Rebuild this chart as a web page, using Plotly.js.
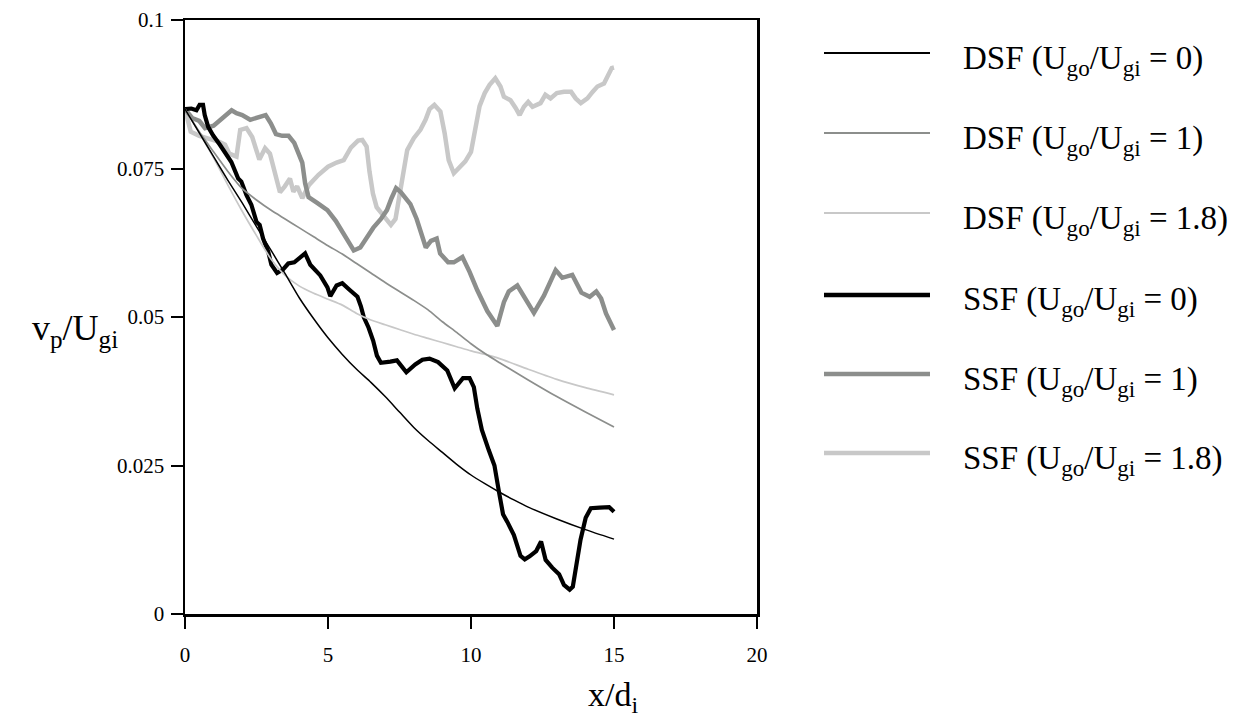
<!DOCTYPE html>
<html>
<head>
<meta charset="utf-8">
<script src="https://cdn.plot.ly/plotly-3.0.1.min.js"></script>
<style>html,body{margin:0;padding:0;background:#fff;}#chart{width:1249px;height:727px;}</style>
</head>
<body>
<div id="chart"></div>
<script>
// ---- Data ----
const seriesNames = [
  "DSF (U<sub>go</sub>/U<sub>gi</sub> = 0)",
  "DSF (U<sub>go</sub>/U<sub>gi</sub> = 1)",
  "DSF (U<sub>go</sub>/U<sub>gi</sub> = 1.8)",
  "SSF (U<sub>go</sub>/U<sub>gi</sub> = 0)",
  "SSF (U<sub>go</sub>/U<sub>gi</sub> = 1)",
  "SSF (U<sub>go</sub>/U<sub>gi</sub> = 1.8)"
];

const dsf0_x = [0,0.5,1,1.5,2,2.5,3,3.5,4,4.5,5,5.5,6,6.5,7,7.5,8,8.5,9,9.5,10,10.5,11,11.5,12,13,14,15];
const dsf0_y = [0.085,0.081,0.077,0.073,0.0692,0.0652,0.0613,0.0573,0.0532,0.0497,0.0465,0.0437,0.0412,0.039,0.0366,0.034,0.0314,0.0292,0.0272,0.0252,0.0234,0.0219,0.0205,0.0192,0.018,0.016,0.0142,0.0126];

const dsf1_x = [0,0.5,1,1.5,2,2.5,3,3.5,4,4.5,5,5.5,6,6.5,7,7.5,8,8.5,9,9.5,10,10.5,11,12,13,14,15];
const dsf1_y = [0.085,0.0812,0.0778,0.0745,0.0716,0.0697,0.068,0.0665,0.065,0.0635,0.062,0.0606,0.059,0.0574,0.0558,0.0543,0.0528,0.0512,0.0492,0.0474,0.0455,0.0438,0.0423,0.0394,0.0366,0.034,0.0315];

const dsf18_x = [0,0.5,1,1.5,2,2.5,3,3.5,4,4.5,5,5.5,6,6.5,7,7.5,8,8.5,9,9.5,10,10.5,11,12,13,14,15];
const dsf18_y = [0.085,0.081,0.0768,0.0722,0.0678,0.0637,0.0598,0.057,0.0552,0.054,0.053,0.052,0.0506,0.0495,0.0487,0.0479,0.0471,0.0464,0.0457,0.045,0.0443,0.0437,0.043,0.0412,0.0395,0.0381,0.0369];

const ssf0_x = [0,0.22,0.4,0.51,0.63,0.69,0.81,0.98,1.22,1.39,1.62,1.86,1.97,2.15,2.32,2.5,2.61,2.73,2.91,3.02,3.22,3.43,3.61,3.82,4.03,4.2,4.38,4.73,4.98,5.08,5.3,5.5,5.75,6.03,6.15,6.25,6.42,6.58,6.71,6.85,7.18,7.41,7.74,8.05,8.3,8.55,8.85,9.17,9.43,9.55,9.72,9.95,10.1,10.22,10.38,10.62,10.82,10.98,11.12,11.27,11.5,11.73,11.88,12.05,12.28,12.45,12.61,12.84,13.08,13.25,13.45,13.56,13.68,13.83,14.01,14.19,14.5,14.83,15];
const ssf0_y = [0.085,0.0851,0.0848,0.0857,0.0857,0.084,0.082,0.0806,0.079,0.0778,0.0761,0.0733,0.0728,0.0705,0.0689,0.066,0.0655,0.0632,0.061,0.0588,0.0574,0.058,0.059,0.0592,0.0601,0.0607,0.0588,0.057,0.055,0.0535,0.0553,0.0557,0.0546,0.0534,0.0518,0.05,0.0482,0.046,0.0435,0.0423,0.0425,0.0427,0.0407,0.042,0.0428,0.043,0.0424,0.041,0.038,0.0386,0.0397,0.0397,0.0382,0.0346,0.031,0.0276,0.025,0.0205,0.0168,0.0155,0.0133,0.0098,0.0092,0.0097,0.0106,0.0122,0.0091,0.0078,0.0067,0.0049,0.0041,0.0046,0.0078,0.0125,0.0162,0.0178,0.0179,0.018,0.0172];

const ssf1_x = [0,0.25,0.5,0.7,1,1.25,1.4,1.63,1.8,2,2.28,2.52,2.82,3,3.18,3.4,3.62,3.82,3.98,4.1,4.2,4.32,4.62,4.98,5.27,5.48,5.72,5.9,6.13,6.36,6.58,6.85,7.06,7.22,7.38,7.55,7.7,7.88,8.1,8.3,8.42,8.6,8.8,8.92,9.2,9.4,9.7,9.95,10.22,10.57,10.92,11.15,11.32,11.62,11.91,12.2,12.55,12.78,12.96,13.19,13.54,13.86,14.15,14.38,14.55,14.72,15];
const ssf1_y = [0.085,0.0835,0.083,0.0818,0.0822,0.0832,0.0837,0.0848,0.0843,0.084,0.0832,0.0835,0.084,0.0826,0.0808,0.0805,0.0805,0.0793,0.0776,0.076,0.0725,0.0702,0.0692,0.068,0.0662,0.0645,0.0628,0.0612,0.0617,0.0635,0.065,0.0665,0.068,0.07,0.0717,0.071,0.0702,0.069,0.0665,0.0635,0.0617,0.0628,0.0632,0.0607,0.0592,0.0592,0.0601,0.0576,0.0545,0.051,0.0485,0.0525,0.0543,0.0553,0.0529,0.0507,0.0536,0.0562,0.0579,0.0566,0.0571,0.0541,0.0534,0.0543,0.0531,0.0506,0.0478];

const ssf18_x = [0,0.2,0.5,0.9,1.2,1.4,1.55,1.8,1.93,2.15,2.35,2.6,2.8,2.97,3.15,3.32,3.49,3.67,3.79,3.92,4.1,4.33,4.66,5,5.3,5.55,5.8,6.05,6.2,6.35,6.45,6.57,6.7,6.9,7.05,7.2,7.36,7.47,7.6,7.77,8,8.23,8.41,8.55,8.72,8.93,9.08,9.22,9.4,9.6,9.8,10,10.16,10.3,10.48,10.65,10.85,11.03,11.15,11.38,11.56,11.7,11.85,12,12.15,12.43,12.6,12.78,13,13.25,13.5,13.66,13.84,14.07,14.25,14.42,14.65,14.78,14.92,15];
const ssf18_y = [0.085,0.0812,0.0805,0.08,0.0795,0.079,0.0775,0.077,0.0815,0.0818,0.0803,0.0765,0.0784,0.0775,0.0738,0.071,0.072,0.0733,0.0711,0.072,0.07,0.0722,0.0739,0.0753,0.076,0.0764,0.0785,0.0797,0.0798,0.0787,0.0745,0.0708,0.0685,0.0672,0.0662,0.0655,0.0665,0.0695,0.0736,0.0781,0.0801,0.0815,0.0832,0.085,0.0857,0.0846,0.0809,0.0764,0.0742,0.0753,0.0762,0.0778,0.0815,0.0855,0.0877,0.0891,0.0902,0.0888,0.0871,0.0865,0.0852,0.084,0.0854,0.0862,0.0854,0.086,0.0874,0.0868,0.0877,0.0879,0.0879,0.0868,0.086,0.0868,0.0879,0.0888,0.0893,0.0905,0.0919,0.092];

const xTicks = [0,5,10,15,20];
const yTicks = [0,0.025,0.05,0.075,0.1];
const yTickText = ["0","0.025","0.05","0.075","0.1"];

// ---- Styles ----
const BLACK = "#000000", MID = "#8c8e8c", LIGHT = "#c8c8c8";
const styles = [
  {color: BLACK, width: 1.5, shape: "spline"},
  {color: MID,   width: 1.7, shape: "spline"},
  {color: LIGHT, width: 1.7, shape: "spline"},
  {color: BLACK, width: 4.2, shape: "linear"},
  {color: MID,   width: 4.5, shape: "linear"},
  {color: LIGHT, width: 4.5, shape: "linear"}
];
const xs = [dsf0_x, dsf1_x, dsf18_x, ssf0_x, ssf1_x, ssf18_x];
const ys = [dsf0_y, dsf1_y, dsf18_y, ssf0_y, ssf1_y, ssf18_y];

const drawOrder = [5, 4, 3, 2, 1, 0];
const traces = drawOrder.map(i => ({
  type: "scatter", mode: "lines", x: xs[i], y: ys[i], name: seriesNames[i],
  line: {color: styles[i].color, width: styles[i].width, shape: styles[i].shape, smoothing: 0.6},
  showlegend: false, hoverinfo: "skip"
}));

// ---- Layout ----
const L = 185, R = 757, T = 20, B = 614, W = 1249, H = 727;
const px2paperX = p => (p - L) / (R - L);
const px2paperY = p => (B - p) / (B - T);

const FONT = "Liberation Serif";
const legendY = [53, 133, 213, 295, 374, 453];
const shapes = [], annotations = [];
seriesNames.forEach((nm, i) => {
  shapes.push({type: "line", xref: "paper", yref: "paper",
    x0: px2paperX(824), x1: px2paperX(930), y0: px2paperY(legendY[i]), y1: px2paperY(legendY[i]),
    line: {color: styles[i].color, width: i < 3 ? 2 : 4.5}});
  annotations.push({xref: "paper", yref: "paper", x: px2paperX(961), y: px2paperY(legendY[i] + 7),
    xanchor: "left", yanchor: "middle", showarrow: false, text: nm,
    font: {family: FONT, size: 33, color: "#000"}});
});
annotations.push({xref: "paper", yref: "paper", x: px2paperX(75), y: px2paperY(330),
  xanchor: "center", yanchor: "middle", showarrow: false, text: "v<sub>p</sub>/U<sub>gi</sub>",
  font: {family: FONT, size: 36, color: "#000"}});
annotations.push({xref: "paper", yref: "paper", x: px2paperX(613), y: px2paperY(697),
  xanchor: "center", yanchor: "middle", showarrow: false, text: "x/d<sub>i</sub>",
  font: {family: FONT, size: 34, color: "#000"}});

const axisCommon = {
  showgrid: false, zeroline: false, showline: true, linecolor: "#000", linewidth: 2.5,
  mirror: true, ticks: "outside", ticklen: 12, tickwidth: 2, tickcolor: "#000",
  tickfont: {family: FONT, size: 21, color: "#000"}, fixedrange: true
};

const layout = {
  width: W, height: H,
  margin: {l: L, r: W - R, t: T, b: H - B, pad: 0},
  paper_bgcolor: "#fff", plot_bgcolor: "#fff",
  font: {family: FONT, color: "#000"},
  showlegend: false,
  xaxis: Object.assign({}, axisCommon, {range: [0, 20], tickvals: xTicks, ticktext: xTicks.map(String), ticklabelstandoff: 8}),
  yaxis: Object.assign({}, axisCommon, {range: [0, 0.1], tickvals: yTicks, ticktext: yTickText, ticklabelstandoff: 2}),
  shapes: shapes, annotations: annotations
};

Plotly.newPlot("chart", traces, layout, {staticPlot: true, displayModeBar: false});
</script>
</body>
</html>
